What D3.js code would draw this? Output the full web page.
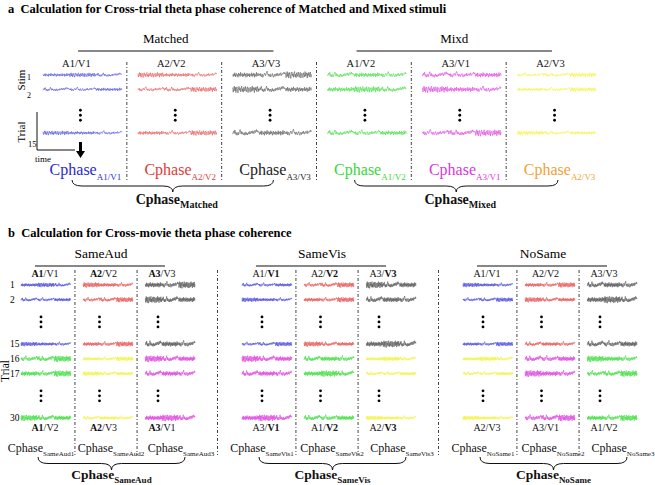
<!DOCTYPE html>
<html><head><meta charset="utf-8">
<script src="https://cdn.jsdelivr.net/npm/d3@7"></script>
<style>body{margin:0;background:#fff} svg text{font-family:"Liberation Serif","DejaVu Serif",serif;}</style>
</head><body><svg id="c" width="655" height="485"></svg>
<script>
// ---------------- data ----------------
const titleA = "a  Calculation for Cross-trial theta phase coherence of Matched and Mixed stimuli";
const titleB = "b  Calculation for Cross-movie theta phase coherence";
const groupsA = ["Matched", "Mixd"];
const groupSubsA = ["Matched", "Mixed"];
const colsA = ["A1/V1", "A2/V2", "A3/V3", "A1/V2", "A3/V1", "A2/V3"];
const colorsA = ["blue", "red", "gray", "green", "magenta", "yellow"];
const rowsA = ["1", "2", "d1", "d2", "15"];
const traceRowsA = ["1", "2", "15"];

const groupsB = ["SameAud", "SameVis", "NoSame"];
const topLabelsB = [["**A1**/V1", "**A2**/V2", "**A3**/V3"], ["A1/**V1**", "A2/**V2**", "A3/**V3**"], ["A1/V1", "A2/V2", "A3/V3"]];
const bottomLabelsB = [["**A1**/V2", "**A2**/V3", "**A3**/V1"], ["A3/**V1**", "A1/**V2**", "A2/**V3**"], ["A2/V3", "A3/V1", "A1/V2"]];
const firstColorsB = [["blue", "red", "gray"], ["blue", "red", "gray"], ["blue", "red", "gray"]];
const secondColorsB = [["green", "yellow", "magenta"], ["magenta", "green", "yellow"], ["yellow", "magenta", "green"]];
const rowsB = ["1", "2", "d1", "d2", "15", "16", "17", "d3", "d4", "30"];
const firstTrialsB = ["1", "2", "15"];
const secondTrialsB = ["16", "17", "30"];
const rowLabelsB = ["1", "2", "15", "16", "17", "30"];
const cphaseSubsB = [["SameAud1", "SameAud2", "SameAud3"], ["SameVis1", "SameVis2", "SameVis3"], ["NoSame1", "NoSame2", "NoSame3"]];

// hand-read noise samples for the EEG-like traces
const n1 = [0.1,-0.4,0.3,-0.2,0.6,-0.5,0.2,0.4,-0.3,0.1,-0.6,0.5,-0.1,0.3,-0.4,0.7,-0.2,0.0,0.4,-0.5,0.2,-0.3,0.6,-0.1,0.3,-0.6,0.1,0.5,-0.4,0.2,-0.2,0.4,-0.5,0.3,0.1,-0.3,0.6,-0.4,0.2,-0.1,0.5,-0.6,0.3,0.0,-0.4,0.7,-0.3,0.2,0.5,-0.2];
const n2 = [-0.3,0.2,0.5,-0.1,0.8,0.3,-0.4,0.1,-0.6,-0.2,0.2,-0.5,0.0,0.4,0.9,0.2,-0.3,0.4,-0.2,0.1,-0.5,-0.3,0.1,-0.6,-0.2,0.3,-0.4,0.0,-0.5,-0.1,0.2,-0.3,0.4,0.1,-0.2,0.5,0.2,-0.1,0.6,0.3,-0.2,0.4,0.7,0.1,0.5,0.9,0.3,0.6,0.2,0.4];
const n3 = [0.5,-0.7,0.2,0.9,-0.4,0.6,-0.8,0.1,0.7,-0.3,-0.9,0.4,0.8,-0.2,0.3,-0.6,0.5,0.9,-0.5,0.2,-0.7,0.6,0.1,-0.4,0.8,-0.1,-0.6,0.4,0.7,-0.8,0.3,0.5,-0.2,-0.7,0.6,0.2,-0.5,0.9,-0.3,0.1,0.6,-0.8,0.4,-0.1,0.7,-0.5,0.3,0.8,-0.6,0.2];
const n4 = [0.0,0.3,-0.2,0.4,-0.5,-0.1,0.2,-0.6,-0.3,0.1,0.5,0.2,-0.2,0.3,0.7,1.0,0.4,-0.1,0.2,-0.4,0.1,0.3,-0.5,-0.2,0.0,0.4,-0.3,-0.6,-0.1,0.2,-0.4,0.1,0.3,-0.2,0.5,0.0,-0.3,0.2,0.4,-0.1,0.3,0.6,-0.2,0.1,0.4,0.2,0.5,0.8,0.3,0.6];
const waves = [n1.concat(n3, n2), n2.concat(n4, n1), n3.concat(n1, n4), n4.concat(n2, n3), n1.concat(n4, n3), n3.concat(n2, n1), n2.concat(n1, n4)];

// ---------------- styles ----------------
const traceColor = {blue:"#4848dc", red:"#e65252", gray:"#555555", green:"#3ede3e", magenta:"#de42de", yellow:"#f2f23a"};
const labelColor = {blue:"#2a2ad2", red:"#e23a3a", gray:"#222222", green:"#3ad83a", magenta:"#d838d8", yellow:"#f2a23a"};
const ampOf = {blue:2.4, red:2.8, gray:3.8, green:3.4, magenta:3.6, yellow:2.4};
const FONT = "Liberation Serif, DejaVu Serif, serif";

const svg = d3.select("#c").attr("font-family", FONT);
svg.append("rect").attr("width", 655).attr("height", 485).attr("fill", "#fff");

// ---------------- helpers ----------------
function trace(g, x0, w, y0, color, wave) {
  const xs = d3.scaleLinear().domain([0, wave.length - 1]).range([x0, x0 + w]);
  const ys = d3.scaleLinear().domain([-1, 1]).range([y0 + ampOf[color], y0 - ampOf[color]]);
  g.append("path").datum(wave)
    .attr("d", d3.line().x((d, i) => xs(i)).y(d => ys(d)))
    .attr("fill", "none").attr("stroke", traceColor[color]).attr("stroke-width", 0.6);
}
function markup(g, x, y, str, size, anchor) {
  const t = g.append("text").attr("x", x).attr("y", y).attr("font-size", size)
    .attr("text-anchor", anchor || "middle").attr("fill", "#111");
  str.split("**").forEach((s, i) => { if (s) t.append("tspan").attr("font-weight", i % 2 ? "bold" : "normal").text(s); });
  return t;
}
function cphase(g, x, y, sub, size, subSize, color, bold) {
  const t = g.append("text").attr("x", x).attr("y", y).attr("text-anchor", "middle")
    .attr("fill", color).attr("font-size", size).attr("font-weight", bold ? "bold" : "normal");
  t.append("tspan").text("Cphase");
  t.append("tspan").attr("dy", size * 0.3).attr("font-size", subSize).text(sub);
}
function brace(g, x1, x2, y, h) {
  const m = (x1 + x2) / 2, q = h / 2, r = 10;
  const p = d3.path();
  p.moveTo(x1, y);
  p.quadraticCurveTo(x1, y + q, x1 + r, y + q);
  p.lineTo(m - r, y + q);
  p.quadraticCurveTo(m, y + q, m, y + h);
  p.quadraticCurveTo(m, y + q, m + r, y + q);
  p.lineTo(x2 - r, y + q);
  p.quadraticCurveTo(x2, y + q, x2, y);
  g.append("path").attr("d", p.toString()).attr("fill", "none").attr("stroke", "#111").attr("stroke-width", 1);
}
function divider(g, x, y1, y2) {
  g.append("line").attr("x1", x).attr("x2", x).attr("y1", y1).attr("y2", y2)
    .attr("stroke", "#444").attr("stroke-width", 1).attr("stroke-dasharray", "3,2,1,2");
}
function vdots(g, x, y) {
  g.selectAll(null).data([-5, 0, 5]).enter().append("circle")
    .attr("cx", x).attr("cy", d => y + d).attr("r", 1.4).attr("fill", "#000");
}

// ---------------- part a ----------------
const A = svg.append("g");
A.append("text").attr("x", 8).attr("y", 13).attr("font-size", 12.5).attr("font-weight", "bold").attr("xml:space", "preserve").text(titleA);

const xA = d3.scaleBand().domain(d3.range(colsA.length)).range([35, 604]).paddingInner(0.17).paddingOuter(0.085);
const yA = d3.scalePoint().domain(rowsA).range([75, 133]);
const bwA = xA.bandwidth();

groupsA.forEach((gname, gi) => {
  const c0 = gi * 3, c2 = gi * 3 + 2;
  const lx1 = xA(c0) + 35 - gi * 6, lx2 = xA(c2) + bwA - 38 - gi * 6;
  A.append("line").attr("x1", lx1).attr("x2", lx2).attr("y1", 51).attr("y2", 51).attr("stroke", "#111").attr("stroke-width", 1.2);
  A.append("text").attr("x", (lx1 + lx2) / 2 - (gi ? 0 : 10)).attr("y", 43).attr("font-size", 13).attr("text-anchor", "middle").text(gname);
  const bx1 = xA(c0) + 29 - gi * 2, bx2 = xA(c2) + bwA - 38;
  brace(A, bx1, bx2, 180, 12);
  cphase(A, (bx1 + bx2) / 2 + 4, 204, groupSubsA[gi], 14, 10, "#111", true);
});

colsA.forEach((lab, c) => {
  const cx = xA(c) + bwA / 2;
  A.append("text").attr("x", cx - 6).attr("y", 67).attr("font-size", 10.5).attr("text-anchor", "middle").attr("fill", "#111").text(lab);
  traceRowsA.forEach((r, ri) => trace(A, xA(c), bwA, yA(r), colorsA[c], waves[(c * 2 + ri) % waves.length]));
  vdots(A, cx - 2, (yA("d1") + yA("d2")) / 2 + 4);
  cphase(A, cx + 3, 175, lab, 16, 9, labelColor[colorsA[c]], false);
  if (c < colsA.length - 1) divider(A, xA(c) + bwA + xA.step() * 0.085 - 3, 62, 182);
});

// left axis annotations (Stim / Trial / time)
A.append("text").attr("transform", "translate(25,80) rotate(-90)").attr("font-size", 11).attr("text-anchor", "middle").text("Stim");
A.append("text").attr("x", 27).attr("y", yA("1") + 5).attr("font-size", 8).text("1");
A.append("text").attr("x", 27).attr("y", yA("2") + 8).attr("font-size", 8).text("2");
A.append("line").attr("x1", 37).attr("x2", 37).attr("y1", 112).attr("y2", 150).attr("stroke", "#111");
A.append("line").attr("x1", 37).attr("x2", 75).attr("y1", 150).attr("y2", 150).attr("stroke", "#111");
A.append("text").attr("transform", "translate(25,132) rotate(-90)").attr("font-size", 11).attr("text-anchor", "middle").text("Trial");
A.append("text").attr("x", 28).attr("y", 147).attr("font-size", 8.5).text("15");
A.append("text").attr("x", 35).attr("y", 162).attr("font-size", 9).text("time");
A.append("path").attr("d", "M79,142 L82,142 L82,151 L85,151 L80.5,158 L76,151 L79,151 Z").attr("fill", "#000");

// ---------------- part b ----------------
const B = svg.append("g");
B.append("text").attr("x", 8).attr("y", 237).attr("font-size", 12.5).attr("font-weight", "bold").attr("xml:space", "preserve").text(titleB);

const gB = d3.scaleBand().domain(groupsB).range([21, 684]);
const iB = d3.scaleBand().domain([0, 1, 2]).range([0, 174]).paddingInner(0.2);
const lB = d3.scalePoint().domain([0, 1, 2]).range([24, 141]);
const cB = d3.scalePoint().domain([0, 1, 2]).range([20, 160]);
const yB = d3.scalePoint().domain(rowsB).range([285, 418]);
const bwB = iB.bandwidth();

groupsB.forEach((gname, gi) => {
  const gx = gB(gname);
  B.append("line").attr("x1", gx + 14).attr("x2", gx + 144).attr("y1", 266).attr("y2", 266).attr("stroke", "#111").attr("stroke-width", 1.2);
  B.append("text").attr("x", gx + 80).attr("y", 258).attr("font-size", 13.5).attr("text-anchor", "middle").text(gname);
  [0, 1, 2].forEach(k => {
    const x0 = gx + iB(k);
    firstTrialsB.forEach((r, ri) => trace(B, x0, bwB, yB(r), firstColorsB[gi][k], waves[(gi + k * 2 + ri) % waves.length]));
    secondTrialsB.forEach((r, ri) => trace(B, x0, bwB, yB(r), secondColorsB[gi][k], waves[(gi * 2 + k + ri + 3) % waves.length]));
    markup(B, gx + lB(k), 277, topLabelsB[gi][k], 10);
    markup(B, gx + lB(k), 431, bottomLabelsB[gi][k], 10);
    vdots(B, gx + lB(k) - 4, (yB("d1") + yB("d2")) / 2);
    vdots(B, gx + lB(k) - 4, (yB("d3") + yB("d4")) / 2);
    cphase(B, gx + cB(k), 452, cphaseSubsB[gi][k], 12, 7, "#111", false);
    if (k < 2) divider(B, x0 + bwB + (iB.step() - bwB) / 2 - 2, 270, 455);
  });
  if (gi < groupsB.length - 1) divider(B, gx + 174 + (gB.step() - 174) / 2 - 1, 270, 455);
  brace(B, gx + 17, gx + 164, 457, 13);
  cphase(B, gx + 90.5, 479, gname, 13.5, 9, "#111", true);
});

rowLabelsB.forEach(r => {
  B.append("text").attr("x", 10).attr("y", yB(r) + 3).attr("font-size", 9.5).text(r);
});
B.append("text").attr("transform", "translate(8.5,371) rotate(-90)").attr("font-size", 11.5).attr("text-anchor", "middle").text("Trial");
</script>
</body></html>
